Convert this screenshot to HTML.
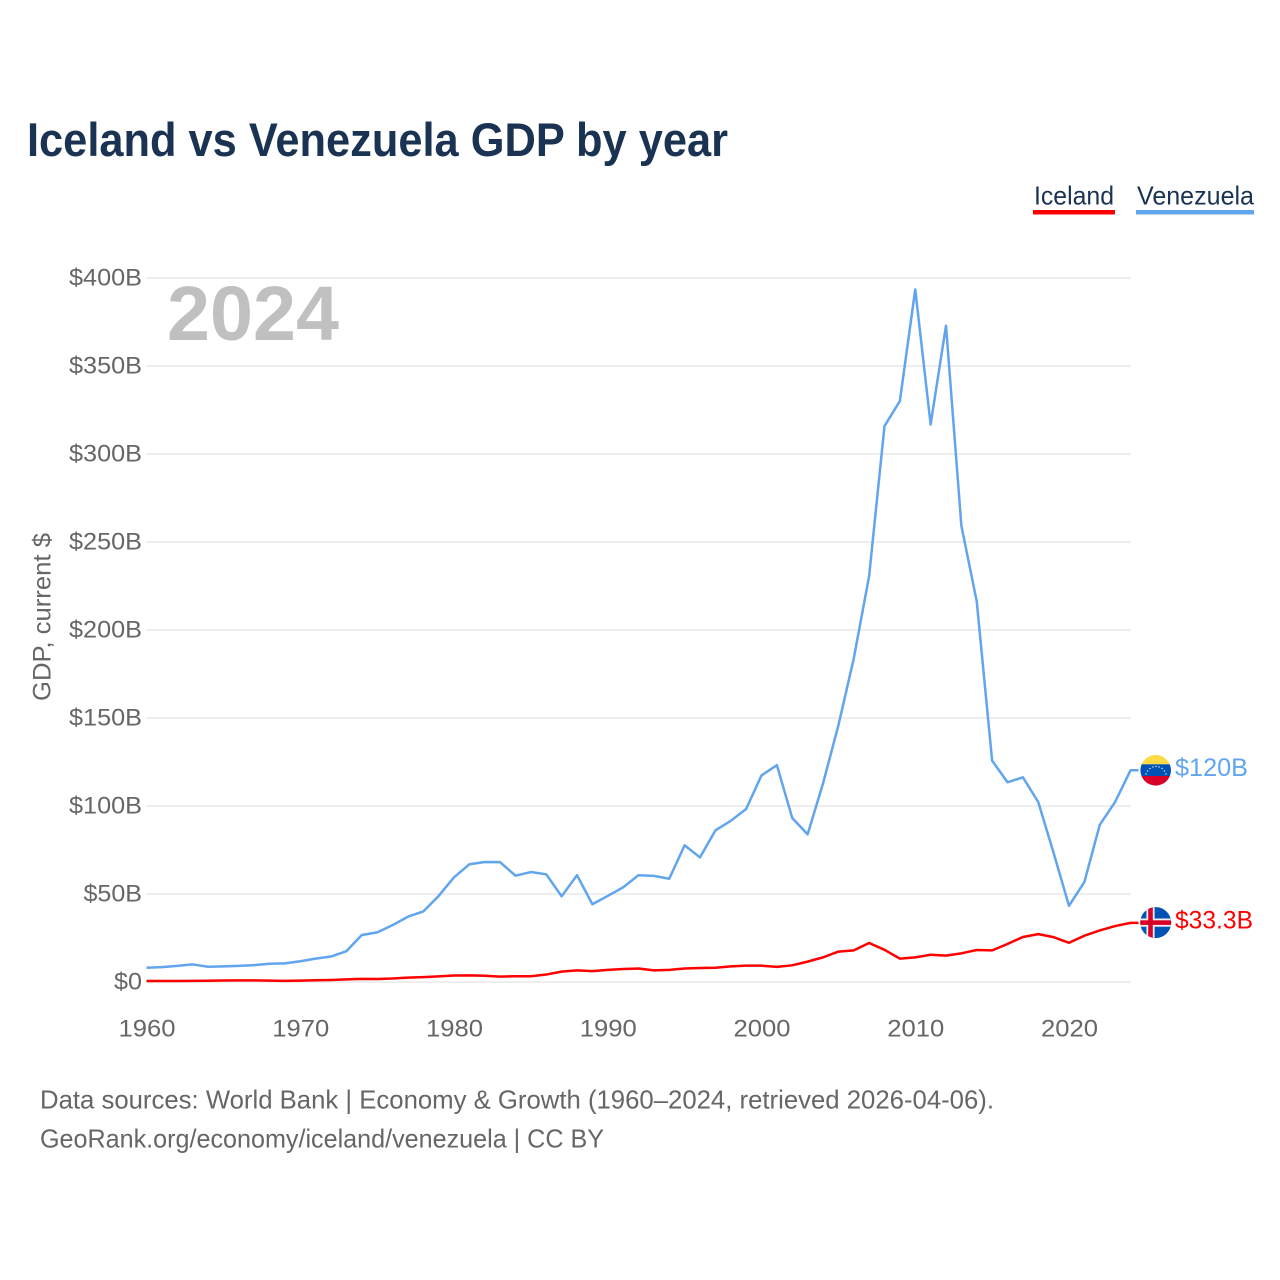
<!DOCTYPE html>
<html lang="en">
<head>
<meta charset="utf-8">
<title>Iceland vs Venezuela GDP by year</title>
<style>
html,body{margin:0;padding:0;background:#fff;width:1280px;height:1280px;overflow:hidden}
svg{display:block}
text{font-family:"Liberation Sans",sans-serif}
</style>
</head>
<body>
<svg id="chart" width="1280" height="1280" viewBox="0 0 1280 1280" xmlns="http://www.w3.org/2000/svg">
  <defs>
    <clipPath id="flag-ve-clip"><circle cx="1155.7" cy="770.3" r="15.3"/></clipPath>
    <clipPath id="flag-is-clip"><circle cx="1155.7" cy="922.6" r="15.5"/></clipPath>
  </defs>
  <text x="27" y="156" font-size="47" font-weight="700" fill="#1a3353" textLength="701" lengthAdjust="spacingAndGlyphs">Iceland vs Venezuela GDP by year</text>

  <g>
    <g>
      <text x="1034" y="204.500" font-size="26" fill="#1a3353" textLength="80" lengthAdjust="spacingAndGlyphs">Iceland</text>
      <rect x="1033" y="210" width="82" height="4.5" fill="#ff0000"/>
    </g>
    <g>
      <text x="1137" y="204.500" font-size="26" fill="#1a3353" textLength="117" lengthAdjust="spacingAndGlyphs">Venezuela</text>
      <rect x="1136" y="210" width="118" height="4.5" fill="#60a5ee"/>
    </g>
  </g>

  <g id="grid"></g>
  <g id="yticks"></g>
  <g id="xticks"></g>

  <text transform="translate(50.500,701) rotate(-90)" font-size="25" fill="#666666" textLength="168" lengthAdjust="spacingAndGlyphs">GDP, current $</text>
  <text x="167" y="340" font-size="77" font-weight="700" fill="#c0c0c0" textLength="172" lengthAdjust="spacingAndGlyphs">2024</text>

  <g id="series" transform="translate(-0.5,-0.5)"></g>

  <g clip-path="url(#flag-ve-clip)">
    <rect x="1140" y="754" width="32" height="10.300" fill="#ffda44"/>
    <rect x="1140" y="764.300" width="32" height="11.700" fill="#0052b4"/>
    <rect x="1140" y="776" width="32" height="11" fill="#d80027"/>
    <g fill="#f0f0f0">
      <circle cx="1146" cy="774" r="0.7"/>
      <circle cx="1147.500" cy="771" r="0.7"/>
      <circle cx="1150" cy="768.500" r="0.7"/>
      <circle cx="1153" cy="767" r="0.7"/>
      <circle cx="1156" cy="766.500" r="0.7"/>
      <circle cx="1159" cy="767" r="0.7"/>
      <circle cx="1162" cy="768.500" r="0.7"/>
      <circle cx="1164.500" cy="771" r="0.7"/>
      <circle cx="1166" cy="774" r="0.7"/>
    </g>
  </g>
  <g clip-path="url(#flag-is-clip)">
    <rect x="1140" y="907" width="32" height="32" fill="#0052b4"/>
    <rect x="1140" y="918.500" width="32" height="8.200" fill="#f0f0f0"/>
    <rect x="1146.400" y="907" width="8.200" height="32" fill="#f0f0f0"/>
    <rect x="1140" y="920.300" width="32" height="4.600" fill="#d80027"/>
    <rect x="1148.200" y="907" width="4.600" height="32" fill="#d80027"/>
  </g>

  <text id="label-ve" x="1175" y="776" font-size="25" fill="#60a5ee" textLength="73" lengthAdjust="spacingAndGlyphs">$120B</text>
  <text id="label-is" x="1175" y="928.500" font-size="25" fill="#ff0000" textLength="78" lengthAdjust="spacingAndGlyphs">$33.3B</text>

  <text x="40" y="1108.500" font-size="26" fill="#666666" textLength="954" lengthAdjust="spacingAndGlyphs">Data sources: World Bank | Economy &amp; Growth (1960–2024, retrieved 2026-04-06).</text>
  <text x="40" y="1147.500" font-size="26" fill="#666666" textLength="564" lengthAdjust="spacingAndGlyphs">GeoRank.org/economy/iceland/venezuela | CC BY</text>
</svg>
<script>
const startYear = 1960;
const yTickValues = [0, 50, 100, 150, 200, 250, 300, 350, 400];
const yTickLabels = ["$0", "$50B", "$100B", "$150B", "$200B", "$250B", "$300B", "$350B", "$400B"];
const xTickYears = [1960, 1970, 1980, 1990, 2000, 2010, 2020];
const venezuela = [
  7.8, 8.2, 8.9, 9.7, 8.4, 8.6, 8.9, 9.3, 10.1, 10.3,
  11.5, 13.0, 14.2, 17.2, 26.4, 27.9, 32.0, 36.8, 39.8, 48.6,
  59.2, 66.6, 67.9, 67.8, 60.1, 62.2, 60.9, 48.4, 60.4, 43.9,
  48.6, 53.5, 60.4, 60.0, 58.4, 77.4, 70.5, 85.8, 91.3, 98.0,
  117.1, 122.9, 92.9, 83.6, 112.5, 145.5, 183.5, 230.4, 315.6, 329.8,
  393.2, 316.5, 372.6, 258.9, 215.9, 125.5, 113.2, 116.0, 102.0, 73.0,
  43.0, 56.5, 89.0, 102.0, 120.0
];
const iceland = [
  0.25, 0.25, 0.3, 0.36, 0.46, 0.56, 0.62, 0.62, 0.48, 0.33,
  0.53, 0.69, 0.85, 1.2, 1.5, 1.4, 1.7, 2.2, 2.5, 2.9,
  3.4, 3.5, 3.3, 2.8, 3.0, 3.0, 3.95, 5.6, 6.3, 5.9,
  6.6, 7.1, 7.4, 6.3, 6.6, 7.4, 7.7, 7.8, 8.6, 9.0,
  9.0, 8.3, 9.2, 11.3, 13.7, 17.0, 17.7, 21.9, 18.0, 13.0,
  13.7, 15.2, 14.7, 16.0, 17.9, 17.7, 21.3, 25.3, 26.9, 25.2,
  22.0, 26.0, 29.0, 31.5, 33.3
];

const NS = "http://www.w3.org/2000/svg";
function xScale(year) { return 147 + (year - 1960) * (984 / 64); }
function yScale(value) { return 982 - value * (704 / 400); }

function makeText(x, y, str, anchor, len) {
  const t = document.createElementNS(NS, "text");
  t.setAttribute("x", x);
  t.setAttribute("y", y);
  t.setAttribute("font-size", "24.5");
  t.setAttribute("fill", "#666666");
  t.setAttribute("text-anchor", anchor);
  t.setAttribute("textLength", len);
  t.setAttribute("lengthAdjust", "spacingAndGlyphs");
  t.textContent = str;
  return t;
}

const gridG = document.getElementById("grid");
const yG = document.getElementById("yticks");
yTickValues.forEach(function (v, i) {
  const l = document.createElementNS(NS, "line");
  l.setAttribute("x1", xScale(1960) - 1);
  l.setAttribute("x2", xScale(2024));
  l.setAttribute("y1", yScale(v));
  l.setAttribute("y2", yScale(v));
  l.setAttribute("stroke", "#eeeeee");
  l.setAttribute("stroke-width", "2");
  
  
  gridG.appendChild(l);

  const s = yTickLabels[i];
  const w = s.length === 2 ? 28 : (s.length - 1) * 14.5 + 15;
  const t = makeText(142, yScale(v) + 7.3, s, "end", w);
  
  
  yG.appendChild(t);
});

const xG = document.getElementById("xticks");
xTickYears.forEach(function (yr) {
  const t = makeText(xScale(yr), 1036.4, String(yr), "middle", 57);
  
  
  xG.appendChild(t);
});

function seriesPoints(values) {
  return values.map(function (v, i) {
    return xScale(startYear + i).toFixed(2) + "," + yScale(v).toFixed(2);
  });
}

const seriesG = document.getElementById("series");

const veLine = document.createElementNS(NS, "polyline");
const vePts = seriesPoints(venezuela);
vePts.push((xScale(2024) + 8) + "," + yScale(venezuela[venezuela.length - 1]).toFixed(2));
veLine.setAttribute("points", vePts.join(" "));
veLine.setAttribute("fill", "none");
veLine.setAttribute("stroke", "#60a5ee");
veLine.setAttribute("stroke-width", "2.5");
veLine.setAttribute("stroke-linejoin", "round");


seriesG.appendChild(veLine);

const isLine = document.createElementNS(NS, "polyline");
const isPts = seriesPoints(iceland);
isPts.push((xScale(2024) + 8) + "," + yScale(iceland[iceland.length - 1]).toFixed(2));
isLine.setAttribute("points", isPts.join(" "));
isLine.setAttribute("fill", "none");
isLine.setAttribute("stroke", "#ff0000");
isLine.setAttribute("stroke-width", "2.5");
isLine.setAttribute("stroke-linejoin", "round");


seriesG.appendChild(isLine);
</script>
</body>
</html>
